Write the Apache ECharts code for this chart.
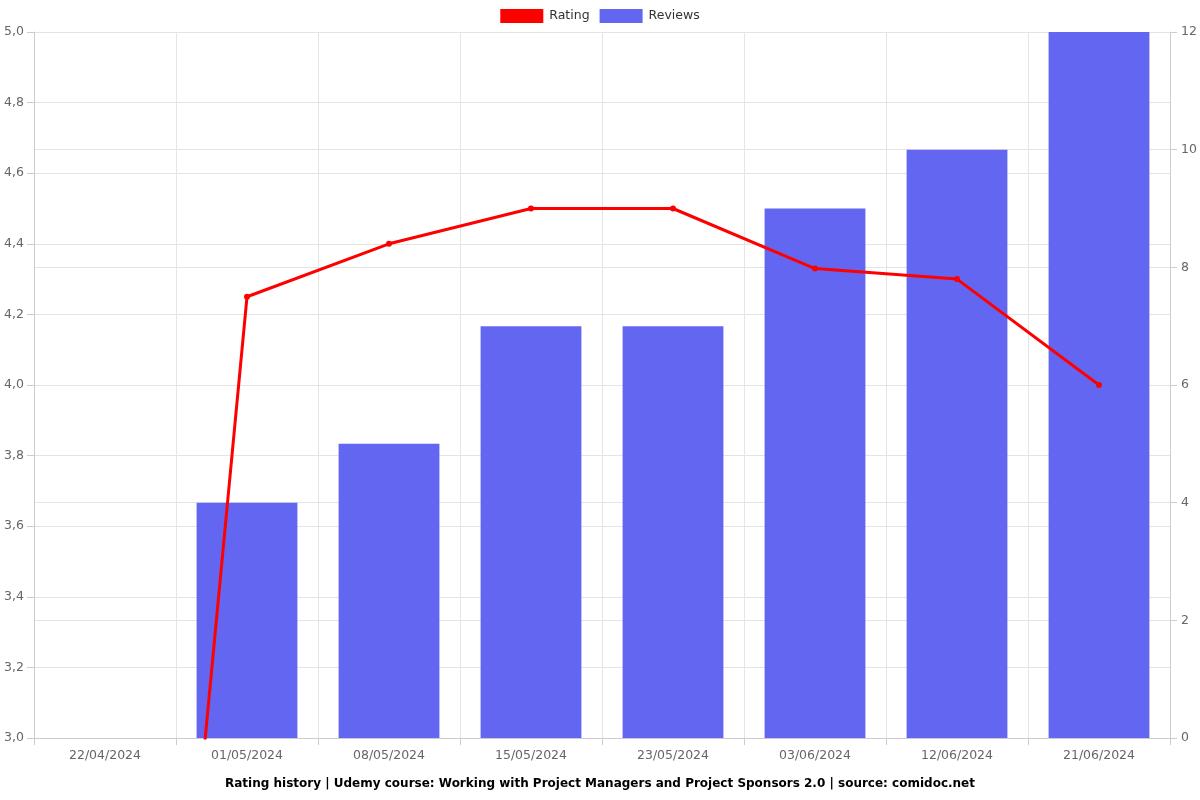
<!DOCTYPE html>
<html><head><meta charset="utf-8">
<script src="https://cdn.jsdelivr.net/npm/echarts@6/dist/echarts.min.js"></script>
<style>html,body{margin:0;padding:0;background:#fff}#c{width:1200px;height:800px}</style>
</head><body><div id="c"></div>
<script>
const categories = ['22/04/2024','01/05/2024','08/05/2024','15/05/2024','23/05/2024','03/06/2024','12/06/2024','21/06/2024'];
const ratingValues = [0, 4.25, 4.4, 4.5, 4.5, 4.33, 4.3, 4.0];
const reviewValues = [0, 4, 5, 7, 7, 9, 10, 12];
const titleText = 'Rating history | Udemy course: Working with Project Managers and Project Sponsors 2.0 | source: comidoc.net';

const chart = echarts.init(document.getElementById('c'));
const font = 'DejaVu Sans';
chart.setOption({
  animation: false,
  textStyle: { fontFamily: font },
  title: { text: titleText, left: 'center', bottom: 5,
    textStyle: { fontFamily: font, fontSize: 12, fontWeight: 'bold', color: '#000' } },
  legend: { top: 4, left: 'center', itemWidth: 43, itemHeight: 14, itemGap: 10,
    textStyle: { fontFamily: font, fontSize: 12.5, color: '#333', padding: [0, 0, 0, 1] },
    data: [{ name: 'Rating', icon: 'rect' }, { name: 'Reviews', icon: 'rect' }] },
  grid: { left: 34, right: 30, top: 32, bottom: 62 },
  xAxis: { type: 'category', data: categories, boundaryGap: true,
    axisLine: { lineStyle: { color: '#ccc' } },
    axisTick: { show: true, length: 7, lineStyle: { color: '#ccc' } },
    splitLine: { show: true, lineStyle: { color: '#e4e4e4' } },
    axisLabel: { fontFamily: font, fontSize: 12.5, color: '#666', margin: 11 } },
  yAxis: [
    { type: 'value', min: 3, max: 5, interval: 0.2,
      axisLine: { show: true, lineStyle: { color: '#ccc' } },
      axisTick: { show: true, length: 7, lineStyle: { color: '#ccc' } },
      splitLine: { lineStyle: { color: '#e4e4e4' } },
      axisLabel: { fontFamily: font, fontSize: 12.5, color: '#666', margin: 10, padding: [4, 0, 0, 0],
        formatter: v => v.toFixed(1).replace('.', ',') } },
    { type: 'value', min: 0, max: 12, interval: 2, position: 'right',
      axisLine: { show: true, lineStyle: { color: '#ccc' } },
      axisTick: { show: true, length: 7, lineStyle: { color: '#ccc' } },
      splitLine: { lineStyle: { color: '#e4e4e4' } },
      axisLabel: { fontFamily: font, fontSize: 12.5, color: '#666', margin: 11, padding: [4, 0, 0, 0] } }
  ],
  series: [
    { name: 'Rating', type: 'line', yAxisIndex: 0, data: ratingValues, z: 3,
      color: '#ff0000', symbol: 'circle', symbolSize: 6, showSymbol: true,
      lineStyle: { width: 3, color: '#ff0000' }, itemStyle: { color: '#ff0000' } },
    { name: 'Reviews', type: 'bar', yAxisIndex: 1, data: reviewValues, z: 2,
      color: '#6366f1', barWidth: '71%',
      itemStyle: { color: '#6366f1' } }
  ]
});
</script></body></html>
